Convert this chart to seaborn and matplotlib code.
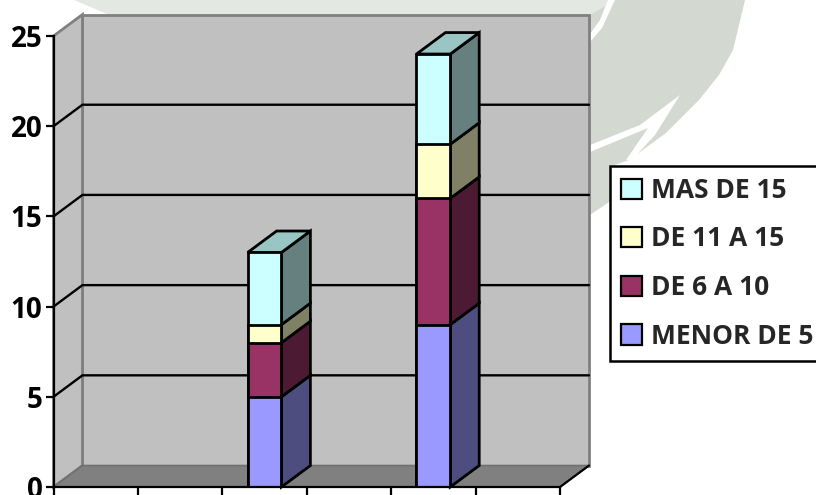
import matplotlib
matplotlib.use('Agg')
import matplotlib.pyplot as plt
from matplotlib.patches import Patch, Polygon
import numpy as np
import pandas as pd
import seaborn as sns

# six category slots, only two of them hold data
categories = ['c1', 'c2', 'c3', 'c4', 'c5', 'c6']
bar_categories = ['c3', 'c5']
menor_5 = [5, 9]
de_6_10 = [3, 7]
de_11_15 = [1, 3]
mas_15 = [4, 5]
series_names = ['MENOR DE 5', 'DE 6 A 10', 'DE 11 A 15', 'MAS DE 15']
y_ticks = [0, 5, 10, 15, 20, 25]

front_colors = ['#9999FF', '#993366', '#FFFFCC', '#CCFFFF']
side_colors = ['#4D4D80', '#4D1A33', '#808066', '#668080']
top_color = '#99C5C5'
EDGE = 2.0
DX, DY = 0.343, 1.19  # 3d depth in data units
BAR_W = 0.40
FONT = 'Open Sans'

sns.set_theme(style='white')
plt.rcParams['font.family'] = [FONT, 'DejaVu Sans']
plt.rcParams['font.weight'] = 'bold'

W, H = 816, 495
fig = plt.figure(figsize=(W / 100, H / 100), dpi=100)
fig.patch.set_facecolor('white')


def px(points):
    return [(x / W, 1 - y / H) for x, y in points]


# pale watermark behind the chart
wm = [(75, 0), (745, 0), (733, 50), (719, 75), (699, 100), (666, 133), (629, 160),
      (612, 166), (612, 200), (590, 215), (590, 15), (110, 15)]
fig.add_artist(Polygon(px(wm), transform=fig.transFigure, fc='#D3D9D0', ec='none', zorder=-5))
fig.add_artist(Polygon(px([(75, 0), (615, 0), (590, 15), (110, 15)]), transform=fig.transFigure,
                       fc='#E4E8E2', ec='none', zorder=-4))
fig.add_artist(Polygon(px([(590, 145), (640, 125), (680, 95), (655, 135), (632, 160), (626, 160),
                           (648, 128), (590, 152)]),
                       transform=fig.transFigure, fc='white', ec='none', zorder=-3))
fig.add_artist(Polygon(px([(608, 0), (615, 0), (602, 28), (590, 42), (590, 34), (600, 20)]),
                       transform=fig.transFigure, fc='white', ec='none', zorder=-3))

ax = fig.add_axes([53.5 / W, (H - 487) / H, (560 - 53.5) / W, (487 - 36) / H])
ax.set_facecolor('none')
x0, x1 = -0.5, 5.5
y1 = y_ticks[-1]

# walls and floor
ax.fill([x0 + DX, x1 + DX, x1 + DX, x0 + DX], [DY, DY, y1 + DY, y1 + DY], fc='#C0C0C0',
        ec='#808080', lw=2, clip_on=False, zorder=0)
ax.fill([x0, x0 + DX, x0 + DX, x0], [0, DY, y1 + DY, y1], fc='#C0C0C0', ec='#808080', lw=2,
        clip_on=False, zorder=0)
ax.fill([x0, x1, x1 + DX, x0 + DX], [0, 0, DY, DY], fc='#808080', ec='#707070', lw=1.2,
        clip_on=False, zorder=0)
ax.plot([x1, x1 + DX], [0, DY], color='black', lw=1.6, clip_on=False, zorder=1)

for v in y_ticks[1:-1]:
    ax.plot([x0, x0 + DX, x1 + DX], [v, v + DY, v + DY], color='black', lw=1.7, clip_on=False, zorder=1)

df = pd.DataFrame({'cat': bar_categories, 'MENOR DE 5': menor_5, 'DE 6 A 10': de_6_10,
                   'DE 11 A 15': de_11_15, 'MAS DE 15': mas_15})
cum = df[series_names].cumsum(axis=1)
cum['cat'] = df['cat']

# depth faces, drawn bottom-up
for j, name in enumerate(series_names):
    for c, top in zip(cum['cat'], cum[name]):
        xr = categories.index(c) + BAR_W / 2
        low = top - df.loc[df['cat'] == c, name].iloc[0]
        ax.fill([xr, xr + DX, xr + DX, xr], [low, low + DY, top + DY, top], fc=side_colors[j],
                ec='black', lw=EDGE, clip_on=False, zorder=2)
for c, top in zip(cum['cat'], cum[series_names[-1]]):
    xc = categories.index(c)
    xl, xr = xc - BAR_W / 2, xc + BAR_W / 2
    ax.fill([xl, xr, xr + DX, xl + DX], [top, top, top + DY, top + DY], fc=top_color,
            ec='black', lw=EDGE, clip_on=False, zorder=2)

# front faces: cumulative totals, tallest first
for j in range(len(series_names) - 1, -1, -1):
    name = series_names[j]
    sns.barplot(data=cum, x='cat', y=name, order=categories, color=front_colors[j], saturation=1,
                width=BAR_W, edgecolor='black', linewidth=EDGE, ax=ax, zorder=3)

ax.set_xlim(x0, x1)
ax.set_ylim(0, y1)
ax.set_xlabel('')
ax.set_ylabel('')
ax.set_xticks(np.arange(x0, x1 + 1))
ax.set_xticklabels([])
ax.set_yticks(y_ticks)
ax.set_yticklabels([str(v) for v in y_ticks], fontsize=20, fontweight='bold', color='black')
ax.tick_params(axis='both', which='both', left=True, bottom=True, length=6, width=1.6, color='black', pad=2)
for s in ['top', 'right']:
    ax.spines[s].set_visible(False)
for s in ['left', 'bottom']:
    ax.spines[s].set_color('black')
    ax.spines[s].set_linewidth(1.6)
    ax.spines[s].set_zorder(4)

handles = [Patch(fc=front_colors[j], ec='black', lw=1.6) for j in range(3, -1, -1)]
leg = fig.legend(handles, series_names[::-1], loc='upper left', bbox_to_anchor=(610 / W, 1 - 166 / H),
                 bbox_transform=fig.transFigure, borderaxespad=0, fancybox=False,
                 frameon=True, framealpha=1, facecolor='white', edgecolor='black',
                 handlelength=0.8, handleheight=0.8, handletextpad=0.34, labelspacing=0.82,
                 borderpad=0.41, prop={'family': FONT, 'weight': 'bold', 'size': 19})
leg.get_frame().set_linewidth(1.8)

fig.savefig('out.png', dpi=100)
